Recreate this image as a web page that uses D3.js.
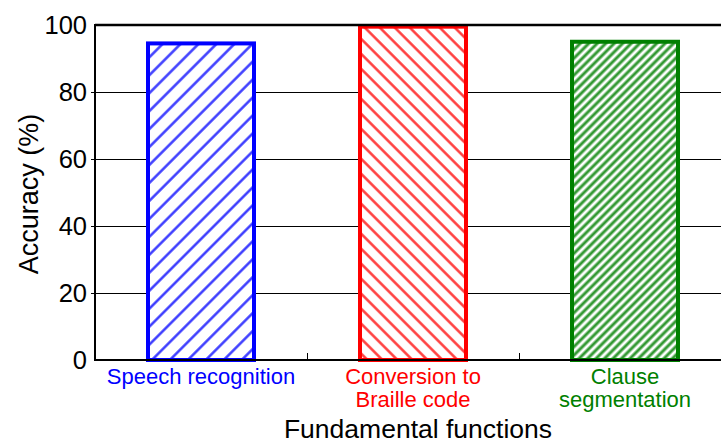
<!DOCTYPE html>
<html>
<head>
<meta charset="utf-8">
<script src="https://cdn.jsdelivr.net/npm/d3@7"></script>
<style>
  body { margin: 0; background: #fff; }
  text { font-family: "Liberation Sans", Arial, sans-serif; }
</style>
</head>
<body>
<div id="container"></div>
<script>
const categories = [["Speech recognition"], ["Conversion to", "Braille code"], ["Clause", "segmentation"]];
const accuracy = [94.5, 99.5, 95];
const colors = ["#0000ff", "#ff0000", "#008000"];
const yTicks = [0, 20, 40, 60, 80, 100];

const width = 721, height = 444;
const margin = { left: 95, top: 25, bottom: 84 };
const plotRight = 731;

const svg = d3.select('#container').append('svg')
  .attr('width', width).attr('height', height);

const x = d3.scaleBand()
  .domain(d3.range(categories.length))
  .range([margin.left, plotRight])
  .paddingInner(0.5).paddingOuter(0.25);

const y = d3.scaleLinear().domain([0, 100]).range([height - margin.bottom, margin.top]);

// hatch patterns
const hatch = [
  { spacing: 12.7, angle: 45, w: 2.4 },
  { spacing: 10.6, angle: -45, w: 2.4 },
  { spacing: 6.0, angle: 45, w: 3.0 }
];
const defs = svg.append('defs');
hatch.forEach((h, i) => {
  const p = defs.append('pattern')
    .attr('id', 'hatch' + i)
    .attr('patternUnits', 'userSpaceOnUse')
    .attr('width', h.spacing).attr('height', h.spacing)
    .attr('patternTransform', `rotate(${h.angle})`);
  p.append('rect').attr('width', h.spacing).attr('height', h.spacing).attr('fill', '#fff');
  p.append('line')
    .attr('x1', h.spacing / 2).attr('x2', h.spacing / 2)
    .attr('y1', 0).attr('y2', h.spacing)
    .attr('stroke', colors[i]).attr('stroke-width', h.w).attr('stroke-opacity', 0.8);
});

// gridlines
svg.append('g').selectAll('line')
  .data(yTicks.filter(d => d > 0 && d < 100))
  .enter().append('line')
  .attr('x1', margin.left - 4).attr('x2', width)
  .attr('y1', d => Math.round(y(d)) + 0.5).attr('y2', d => Math.round(y(d)) + 0.5)
  .attr('stroke', '#000').attr('stroke-width', 1);

// y tick labels
svg.append('g').selectAll('text')
  .data(yTicks).enter().append('text')
  .attr('x', margin.left - 8).attr('y', d => y(d))
  .attr('dy', '0.36em')
  .attr('text-anchor', 'end')
  .attr('font-size', 25.5)
  .text(d => d);

// bars
svg.append('g').selectAll('rect')
  .data(accuracy).enter().append('rect')
  .attr('x', (d, i) => x(i))
  .attr('width', x.bandwidth())
  .attr('y', d => y(d))
  .attr('height', d => y(0) - y(d))
  .attr('fill', (d, i) => `url(#hatch${i})`)
  .attr('stroke', (d, i) => colors[i])
  .attr('stroke-width', 4);

// axes frame
svg.append('line')
  .attr('x1', margin.left).attr('x2', width)
  .attr('y1', y(100)).attr('y2', y(100))
  .attr('stroke', '#000').attr('stroke-width', 2.5);
svg.append('line')
  .attr('x1', margin.left).attr('x2', margin.left)
  .attr('y1', y(100) - 1).attr('y2', y(0) + 1)
  .attr('stroke', '#000').attr('stroke-width', 2);
svg.append('line')
  .attr('x1', margin.left).attr('x2', width)
  .attr('y1', y(0)).attr('y2', y(0))
  .attr('stroke', '#000').attr('stroke-width', 2);

// category separator ticks
svg.append('g').selectAll('line')
  .data(d3.range(1, categories.length)).enter().append('line')
  .attr('x1', i => Math.round(x(i) - x.step() * 0.25) + 0.5)
  .attr('x2', i => Math.round(x(i) - x.step() * 0.25) + 0.5)
  .attr('y1', y(0)).attr('y2', y(0) - 7)
  .attr('stroke', '#000').attr('stroke-width', 1);

// category labels, one text per line
categories.forEach((lines, i) => {
  lines.forEach((t, j) => {
    svg.append('text')
      .attr('x', x(i) + x.bandwidth() / 2)
      .attr('y', 384 + j * 23)
      .attr('text-anchor', 'middle')
      .attr('font-size', 22)
      .attr('fill', colors[i])
      .text(t);
  });
});

// axis titles
svg.append('text')
  .attr('x', 418).attr('y', 438)
  .attr('text-anchor', 'middle')
  .attr('font-size', 26.5)
  .text('Fundamental functions');

svg.append('text')
  .attr('transform', `translate(38, 194) rotate(-90)`)
  .attr('text-anchor', 'middle')
  .attr('font-size', 27)
  .text('Accuracy (%)');
</script>
</body>
</html>
